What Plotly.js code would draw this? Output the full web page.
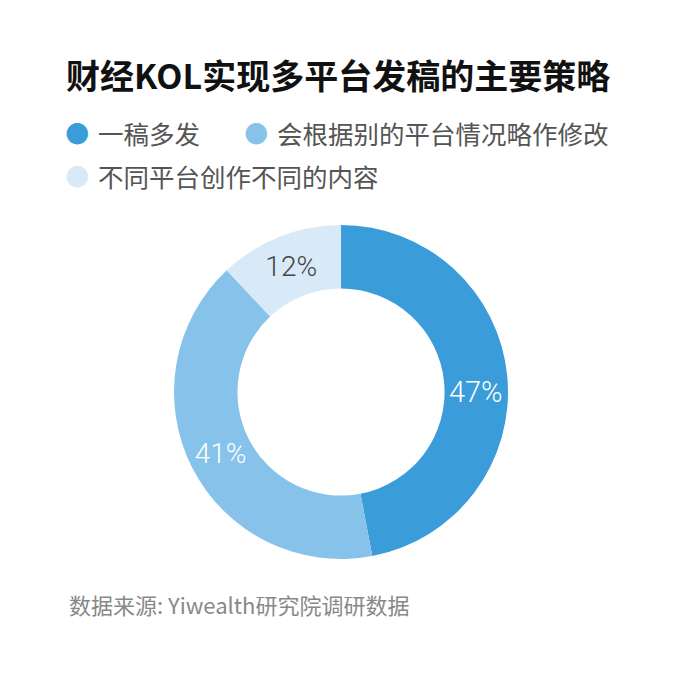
<!DOCTYPE html>
<html><head><meta charset="utf-8">
<script src="https://cdn.plot.ly/plotly-3.0.1.min.js"></script>
<style>body{margin:0;background:#fff}#c{width:683px;height:679px}</style>
</head><body><div id="c"></div>
<script>
const categories = ['一稿多发', '会根据别的平台情况略作修改', '不同平台创作不同的内容'];
const values = [47, 41, 12];
const colors = ['#3a9cd9', '#86c2e9', '#d8eaf7'];
const labelColors = ['#ffffff', '#ffffff', '#444444'];
const titleText = '财经KOL实现多平台发稿的主要策略';
const sourceText = '数据来源: Yiwealth研究院调研数据';

const font = '"Noto Sans CJK SC", "Noto Sans", sans-serif';

const trace = {
  type: 'pie',
  labels: categories,
  values: values,
  sort: false,
  direction: 'clockwise',
  rotation: 0,
  hole: 0.62,
  marker: {colors: colors, line: {width: 0}},
  textinfo: 'percent',
  texttemplate: '%{value}%',
  textposition: 'inside',
  insidetextorientation: 'horizontal',
  insidetextfont: {color: labelColors, size: [29, 28, 28], family: 'Roboto, "Liberation Sans", sans-serif', weight: 300},
  showlegend: false,
  domain: {x: [0.2548, 0.7438], y: [0.1767, 0.6686]}
};

const legendPos = [[77, 132], [256, 132], [77, 175]];
const annotations = [];
categories.forEach((c, i) => {
  annotations.push({
    xref: 'paper', yref: 'paper', x: legendPos[i][0] / 683, y: 1 - legendPos[i][1] / 679,
    xanchor: 'center', yanchor: 'middle', showarrow: false,
    text: '●', font: {size: 28, color: colors[i], family: 'DejaVu Sans'}
  });
  annotations.push({
    xref: 'paper', yref: 'paper', x: (legendPos[i][0] + 19) / 683, y: 1 - (legendPos[i][1] + 1) / 679,
    xanchor: 'left', yanchor: 'middle', showarrow: false,
    text: c, font: {size: 25.5, color: '#555555', family: font}
  });
});
annotations.push({
  xref: 'paper', yref: 'paper', x: 67 / 683, y: 1 - 604 / 679,
  xanchor: 'left', yanchor: 'middle', showarrow: false,
  text: sourceText, font: {size: 22, color: '#888888', family: font}
});

const layout = {
  width: 683, height: 679,
  margin: {l: 0, r: 0, t: 0, b: 0},
  paper_bgcolor: '#ffffff',
  title: {
    text: '<b>' + titleText + '</b>',
    x: 66 / 683, xanchor: 'left', xref: 'paper',
    y: 1 - 77 / 679, yanchor: 'middle', yref: 'paper',
    font: {size: 34, color: '#111111', family: font}
  },
  annotations: annotations
};

Plotly.newPlot('c', [trace], layout, {displayModeBar: false});
</script>
</body></html>
